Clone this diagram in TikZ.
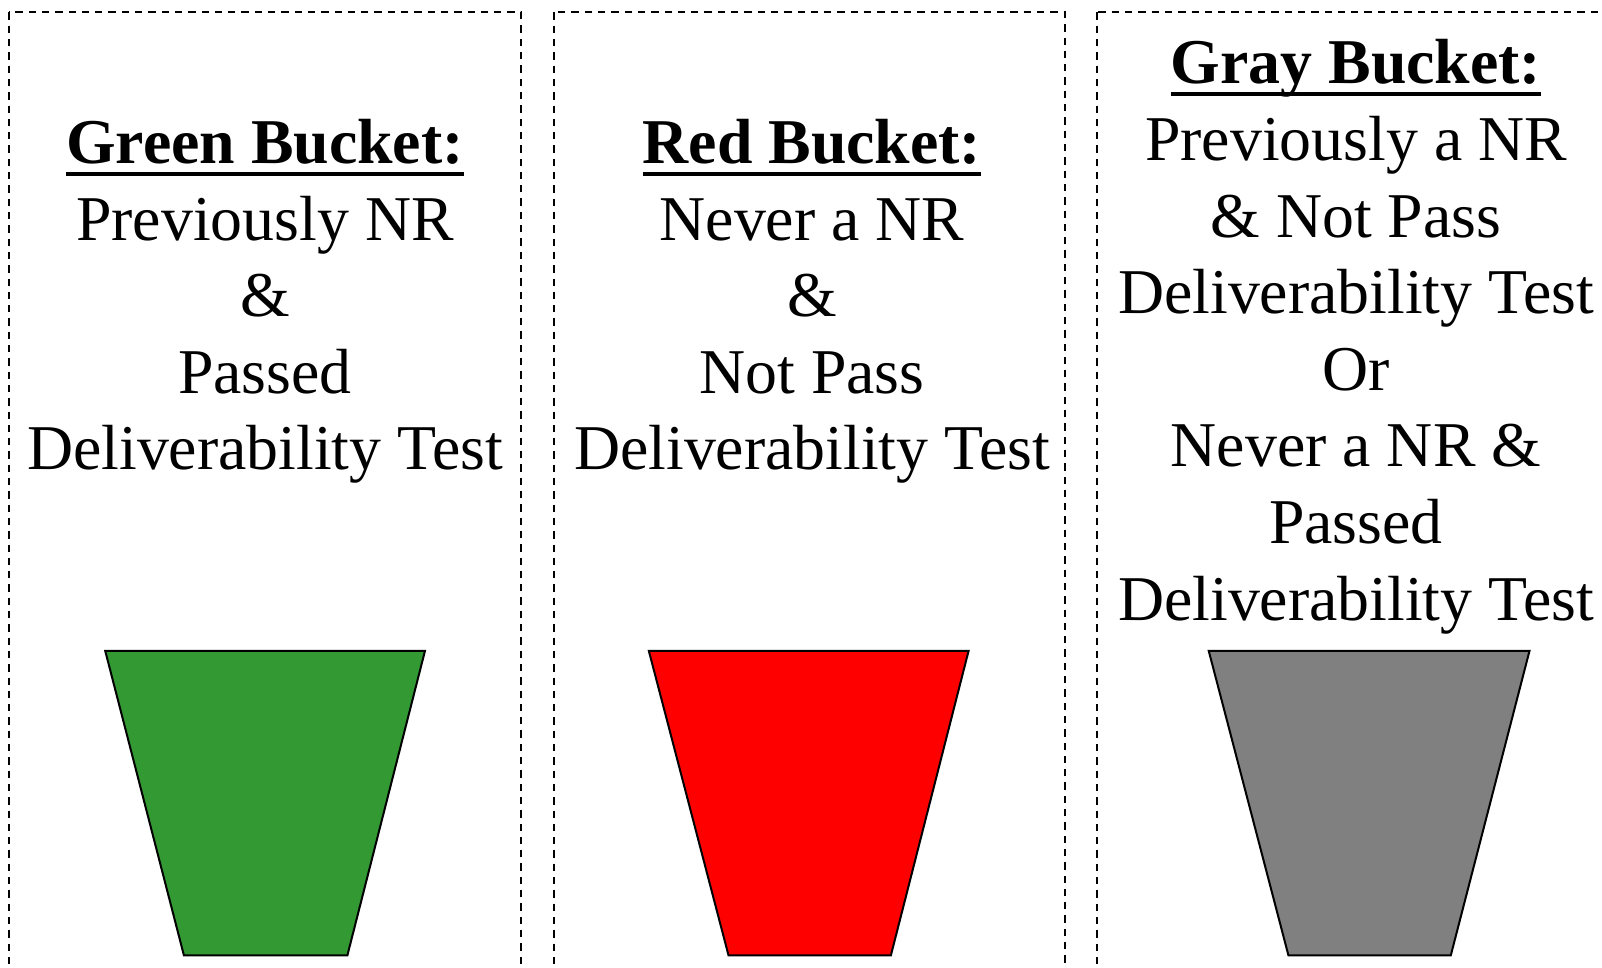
\documentclass[tikz,border=0pt]{standalone}
\usepackage{fontspec}
\setmainfont{Liberation Serif}
\definecolor{bgreen}{HTML}{339933}
\definecolor{bred}{HTML}{FF0000}
\definecolor{bgray}{HTML}{808080}
\begin{document}
\begin{tikzpicture}[x=1pt,y=-1pt,
  colbox/.style={draw=black, dash pattern=on 7.3pt off 6pt, line width=2pt},
  txt/.style={anchor=base, inner sep=0pt, font=\fontsize{63.8pt}{76.6pt}\selectfont},
  ttl/.style={anchor=base, inner sep=0pt, font=\fontsize{63.8pt}{76.6pt}\selectfont\bfseries},
  uline/.style={line width=4pt},
  bucket/.style={draw=black, line width=2pt, line join=miter}]
\useasboundingbox (0,0) rectangle (1602,968);
\clip (0,0) rectangle (1602,968);
% column frames
\draw[colbox] (8.6,12.5) rectangle (521,1010);
\draw[colbox] (553.8,12.5) rectangle (1065,1010);
\draw[colbox] (1097,12.5) rectangle (1640,1010);
% green column
\node[ttl] (gt) at (265,163.5) {Green Bucket:};
\draw[uline] ([yshift=-10.5pt]gt.base west) -- ([yshift=-10.5pt]gt.base east);
\foreach \t [count=\i] in {Previously NR, \&, Passed, Deliverability Test}
  \node[txt] (g\i) at (265,163.5+76.6*\i) {\t};
% red column
\node[ttl] (rt) at (812,163.5) {Red Bucket:};
\draw[uline] ([yshift=-10.5pt]rt.base west) -- ([yshift=-10.5pt]rt.base east);
\foreach \t [count=\i] in {Never a NR, \&, Not Pass, Deliverability Test}
  \node[txt] (r\i) at (812,163.5+76.6*\i) {\t};
% gray column
\node[ttl] (yt) at (1356,83.8) {Gray Bucket:};
\draw[uline] ([yshift=-10.5pt]yt.base west) -- ([yshift=-10.5pt]yt.base east);
\foreach \t [count=\i] in {Previously a NR, \& Not Pass, Deliverability Test, Or, Never a NR \&, Passed, Deliverability Test}
  \node[txt] (y\i) at (1356,83.8+76.6*\i) {\t};
% buckets
\draw[bucket, fill=bgreen] (105.2,650.8) -- (425,650.8) -- (347.4,955.3) -- (183.9,955.3) -- cycle;
\draw[bucket, fill=bred] (648.8,650.8) -- (968.6,650.8) -- (890.9,955.3) -- (728.5,955.3) -- cycle;
\draw[bucket, fill=bgray] (1208.7,650.8) -- (1529.5,650.8) -- (1450.8,955.3) -- (1288.4,955.3) -- cycle;
\end{tikzpicture}
\end{document}
